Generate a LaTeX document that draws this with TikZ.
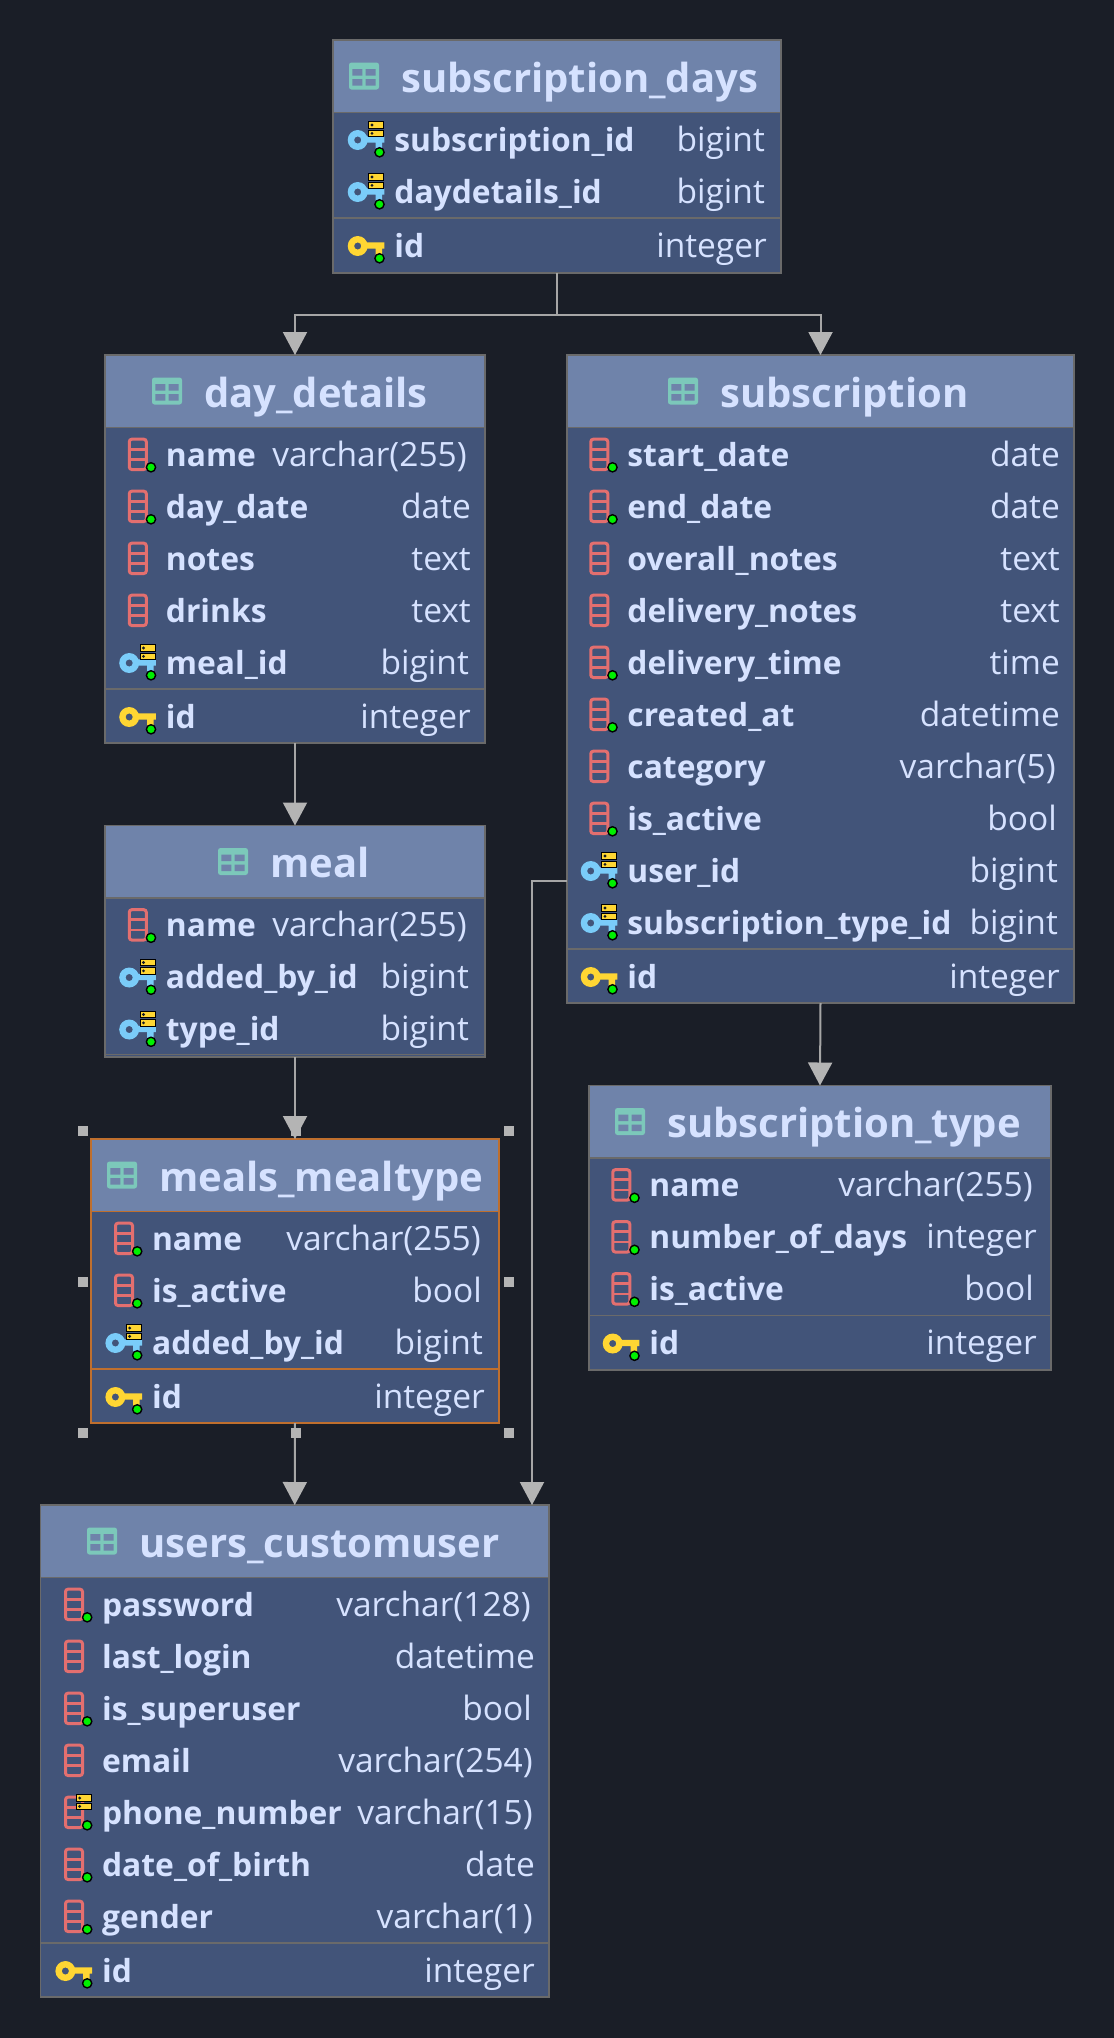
\documentclass[tikz,border=0pt]{standalone}
\usepackage{fontspec}
\setmainfont{Open Sans}
\usetikzlibrary{arrows.meta,calc}
\definecolor{bgc}{HTML}{1A1E27}
\definecolor{headc}{HTML}{6F83AA}
\definecolor{bodyc}{HTML}{425479}
\definecolor{linec}{HTML}{6A6A6A}
\definecolor{selc}{HTML}{BF6F2E}
\definecolor{txtc}{HTML}{D6E2FF}
\definecolor{tabc}{HTML}{7CC8BA}
\definecolor{pkc}{HTML}{FFD633}
\definecolor{fkc}{HTML}{7ACCF9}
\definecolor{colc}{HTML}{E36F6F}
\definecolor{dotc}{HTML}{00F000}
\definecolor{conc}{HTML}{A6A6A6}
\definecolor{handc}{HTML}{B4B4B4}
\newcommand\titlefont{\bfseries\fontsize{40}{42}\selectfont}
\newcommand\namefont{\bfseries\fontsize{31.8}{34}\selectfont}
\newcommand\typefont{\fontsize{33.5}{35}\selectfont}
\tikzset{
  x=1pt,y=-1pt,
  tablebox/.style={rectangle,draw=\bordercol,line width=1.7pt,fill=bodyc,inner sep=0pt,outer sep=0pt},
  titletext/.style={anchor=base west,inner sep=0pt,text=txtc,font=\titlefont},
  nametext/.style={anchor=base west,inner sep=0pt,text=txtc,font=\namefont},
  typetext/.style={anchor=base east,inner sep=0pt,text=txtc,font=\typefont},
  conn/.style={draw=conc,line width=2pt},
  connarrow/.style={conn,-{Triangle[width=24pt,length=23pt,fill=handc,color=handc]}},
  handle/.style={rectangle,fill=handc,minimum size=10pt,inner sep=0pt},
}
\def\bordercol{linec}
% field icons, drawn around the origin of the row (text left edge, row centre)
\newcommand\icgreen{\filldraw[fill=dotc,draw=black,line width=1.4pt] (-15.5,12.3) circle (4.6);}
\newcommand\iccol{\draw[colc,line width=3pt,rounded corners=2.5pt] (-37.2,-15.8) rectangle (-20.2,14.5);
  \draw[colc,line width=2.6pt] (-37.2,-5.8) -- (-20.2,-5.8) (-37.2,4.6) -- (-20.2,4.6);}
\newcommand\icidx{\foreach \yy in {-18.3,-10}{\filldraw[fill=pkc,draw=black,line width=1pt] (-26.5,\yy) rectangle (-11.2,\yy+6.7);
  \fill[black!70!bodyc] (-23,\yy+3.35) circle (1.6);}}
\newcommand\ickey[1]{\fill[#1,even odd rule] (-37.3,0) circle (10) (-37.3,0) circle (3.6);
  \fill[#1] (-29,-3.6) -- (-10.7,-3.6) -- (-10.7,2.5) -- (-13,2.5) -- (-13,9) -- (-19.5,9) -- (-19.5,2.5) -- (-29,2.5) -- cycle;}
\newcommand\iconc{\iccol}
\newcommand\icong{\iccol\icgreen}
\newcommand\iconi{\iccol\icidx\icgreen}
\newcommand\iconf{\ickey{fkc}\icidx\icgreen}
\newcommand\iconp{\ickey{pkc}\icgreen}
% id, left, right, top, bottom, title x, text x, title, rows
\newcommand\dbtable[9]{%
  \pgfmathsetmacro\boxw{#3-#2}\pgfmathsetmacro\boxh{#5-#4}
  \pgfmathsetmacro\mx{(#2+#3)/2}\pgfmathsetmacro\my{(#4+#5)/2}
  \node[tablebox,minimum width=\boxw pt,minimum height=\boxh pt] (#1) at (\mx,\my) {};
  \fill[headc] (#2,#4) rectangle (#3,#4+72);
  \draw[\bordercol,line width=1.7pt] (#2,#4+72.5) -- (#3,#4+72.5);
  \draw[\bordercol,line width=1.7pt] (#1.north west) rectangle (#1.south east);
  % table icon
  \begin{scope}[shift={(#6-52,#4+36)}]
    \fill[tabc,rounded corners=2.5pt] (0,-13.5) rectangle (30,13.5);
    \fill[headc] (3.3,-7) rectangle (13.3,-0.3) (16.7,-7) rectangle (26.7,-0.3)
                 (3.3,3) rectangle (13.3,9.7) (16.7,3) rectangle (26.7,9.7);
  \end{scope}
  \node[titletext] (#1-title) at (#6,#4+52) {#8};
  \pgfmathsetmacro\rx{#3-14}
  \foreach \k/\n/\t/\o [count=\c from 0] in {#9}{
    \if\k p\def\extra{2}\else\def\extra{0}\fi
    \pgfmathsetmacro\ry{#4+100+52*\c+\extra}
    \if\k p\draw[\bordercol,line width=1.7pt] (#2,\ry-28) -- (#3,\ry-28);\fi
    \begin{scope}[shift={(#7,\ry)}]\csname icon\k\endcsname\end{scope}
    \node[nametext] (#1-n\c) at (#7-0.8,\ry+11) {\n};
    \node[typetext] (#1-t\c) at (\rx-\o,\ry+11) {\t};
  }
}
\begin{document}
\begin{tikzpicture}
\fill[bgc] (0,0) rectangle (1114,2038);
\useasboundingbox (0,0) rectangle (1114,2038);

\dbtable{sdays}{333}{781}{40}{273}{401}{395}{subscription\_days}{
  f/subscription\_id/bigint/2,f/daydetails\_id/bigint/2,p/id/integer/0}
\dbtable{details}{105}{485}{355}{743}{204}{166.5}{day\_details}{
  g/name/varchar(255)/4,g/day\_date/date/0,c/notes/text/0,c/drinks/text/0,f/meal\_id/bigint/2,p/id/integer/0}
\dbtable{subs}{567}{1074}{355}{1003}{720}{628}{subscription}{
  g/start\_date/date/0,g/end\_date/date/0,c/overall\_notes/text/0,c/delivery\_notes/text/0,
  g/delivery\_time/time/0,g/created\_at/datetime/0,c/category/varchar(5)/4,g/is\_active/bool/3,
  f/user\_id/bigint/2,f/subscription\_type\_id/bigint/2,p/id/integer/0}
\dbtable{meal}{105}{485}{825.5}{1057}{270}{166.5}{meal}{
  g/name/varchar(255)/4,f/added\_by\_id/bigint/2,f/type\_id/bigint/2}
\draw[linec,line width=1.7pt] (105,1054.5) -- (485,1054.5);
\dbtable{stype}{589}{1051}{1085.5}{1370}{667}{650}{subscription\_type}{
  g/name/varchar(255)/4,g/number\_of\_days/integer/0,g/is\_active/bool/3,p/id/integer/0}
\def\bordercol{selc}
\dbtable{mtype}{91}{499}{1139}{1423}{159}{152.7}{meals\_mealtype}{
  g/name/varchar(255)/4,g/is\_active/bool/3,f/added\_by\_id/bigint/2,p/id/integer/0}
\def\bordercol{linec}
\dbtable{users}{40.5}{549}{1505}{1997}{139}{102.7}{users\_customuser}{
  g/password/varchar(128)/4,c/last\_login/datetime/0,g/is\_superuser/bool/3,c/email/varchar(254)/2,
  i/phone\_number/varchar(15)/2,g/date\_of\_birth/date/0,g/gender/varchar(1)/2,p/id/integer/0}

% connectors
\coordinate (busy) at ($(sdays.south)+(0,41.5)$);
\draw[conn] (sdays.south) -- (busy);
\draw[connarrow] (busy) -| (details.north);
\draw[connarrow] (busy) -| (subs.north);
\draw[connarrow] (details.south) -- (meal.north);
\draw[connarrow] (meal.south) -- (mtype.north);
\draw[connarrow] (mtype.south) -- (users.north);
\draw[connarrow] (subs.south) -- (stype.north);
\coordinate (uidout) at ($(subs.north west)+(0,526)$);
\coordinate (uidin) at ($(users.north west)+(491.5,0)$);
\draw[connarrow] (uidout) -| (uidin);

% selection handles
\foreach \hx/\hy [count=\i] in {83/1131,296/1131,509/1131,83/1282,509/1282,83/1433,296/1433,509/1433}
  \node[handle] (h\i) at (\hx,\hy) {};
\end{tikzpicture}
\end{document}
